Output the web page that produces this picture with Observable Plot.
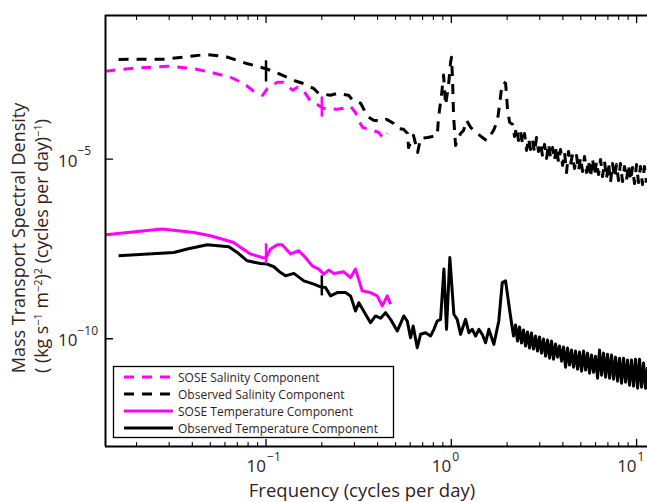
<!DOCTYPE html>
<html><head><meta charset="utf-8">
<script src="https://cdn.jsdelivr.net/npm/d3@7"></script>
<script src="https://cdn.jsdelivr.net/npm/@observablehq/plot@0.6"></script>
<style>
body{margin:0;background:#fff;}
#chart{position:relative;width:647px;height:502px;overflow:hidden;}
#chart svg{display:block;}
</style></head><body><div id="chart"></div>
<script>
// ---- data ----
const obsSalFreq = [0.0160,0.0287,0.0382,0.0471,0.0604,0.0775,0.100,0.1153,0.1442,0.1574,0.1804,0.192,0.2229,0.242,0.279,0.293,0.324,0.353,0.380,0.426,0.447,0.4875,0.513,0.552,0.581,0.5875,0.625,0.658,0.682,0.745,0.7925,0.840,0.853,0.885,0.908,0.931,0.966,0.991,1.002,1.016,1.028,1.054,1.122,1.164,1.208,1.271,1.334,1.403,1.473,1.549,1.607,1.690,1.775,1.820,1.866,1.914,1.963,1.986,2.009,2.063,
  2.140,2.194,2.249,2.305,2.363,2.423,2.484,2.546,2.610,2.676,2.743,2.812,2.884,2.956,3.031,3.107,3.185,3.266,3.348,3.432,3.519,3.606,3.697,3.790,3.886,3.984,4.083,4.187,4.292,4.400,4.511,4.624,4.741,4.860,4.982,5.108,5.236,5.368,5.503,5.641,5.783,5.929,6.078,6.231,6.388,6.548,6.713,6.882,7.055,7.232,7.414,7.601,7.791,7.988,8.188,8.395,8.606,8.823,9.045,9.273,9.506,9.745,9.991,10.24,10.50,10.76,11.03,11.31];
const obsSalPSD = [6.0e-3,6.1e-3,7.2e-3,8.2e-3,7.2e-3,4.7e-3,3.3e-3,2.5e-3,1.5e-3,1.3e-3,9.4e-4,6.8e-4,6.0e-4,6.8e-4,6.0e-4,4.4e-4,3.6e-4,1.56e-4,1.21e-4,1.13e-4,1.29e-4,9.9e-5,7.2e-5,6.8e-5,5.2e-5,2.1e-5,4.6e-5,1.54e-5,3.8e-5,4.0e-5,4.3e-5,4.6e-5,1.46e-4,6.0e-4,2.2e-3,3.2e-4,1.14e-3,5.0e-3,6.9e-3,1.58e-3,1.66e-4,2.42e-5,5.2e-5,6.3e-5,1.21e-4,7.7e-5,5.9e-5,4.9e-5,4.0e-5,3.3e-5,4.3e-5,6.3e-5,1.21e-4,3.2e-4,9.4e-4,1.39e-3,1.30e-3,6.0e-4,2.6e-4,1.06e-4,
  9.3e-5,4.3e-5,7.7e-5,3.3e-5,5.9e-5,2.7e-5,5.2e-5,1.75e-5,3.8e-5,1.87e-5,3.3e-5,1.54e-5,4.0e-5,1.64e-5,2.9e-5,1.19e-5,2.58e-5,1.05e-5,2.7e-5,1.11e-5,2.1e-5,9.2e-6,2.26e-5,8.1e-6,1.87e-5,6.7e-6,1.54e-5,4.25e-6,1.64e-5,7.1e-6,1.35e-5,5.5e-6,1.27e-5,4.83e-6,1.11e-5,4.53e-6,1.19e-5,4.25e-6,9.2e-6,3.08e-6,1.05e-5,3.51e-6,8.6e-6,3.74e-6,9.8e-6,3.29e-6,8.6e-6,2.89e-6,8.1e-6,2.23e-6,7.6e-6,3.08e-6,7.1e-6,2.54e-6,7.6e-6,2.38e-6,6.25e-6,2.71e-6,7.1e-6,2.54e-6,5.86e-6,2.1e-6,7.1e-6,2.23e-6,6.25e-6,1.96e-6,6.25e-6,2.23e-6];

const soseSalFreq = [0.0136,0.0193,0.0294,0.0392,0.0501,0.0643,0.0757,0.0857,0.0957,0.1019,0.1153,0.1242,0.139,0.1479,0.1633,0.1738,0.1873,0.2043,0.2422,0.262,0.2858,0.3041,0.3157,0.3319,0.3758,0.4046,0.4305,0.4529];
const soseSalPSD = [2.82e-3,3.41e-3,3.88e-3,3.41e-3,2.64e-3,1.91e-3,1.30e-3,7.8e-4,6.0e-4,9.4e-4,1.39e-3,1.39e-3,8.3e-4,1.01e-3,6.8e-4,4.1e-4,3.4e-4,2.6e-4,2.44e-4,2.6e-4,2.96e-4,2.0e-4,1.21e-4,7.7e-5,6.3e-5,5.6e-5,3.8e-5,5.2e-5];

const soseTempFreq = [0.0136,0.0275,0.0408,0.0501,0.067,0.0728,0.0825,0.0953,0.1,0.1057,0.1149,0.1223,0.1356,0.1503,0.1633,0.1775,0.1928,0.2051,0.2183,0.2323,0.263,0.2858,0.3041,0.3304,0.3664,0.398,0.424,0.451,0.470];
const soseTempPSD = [7.9e-8,1.14e-7,9.1e-8,7.4e-8,4.8e-8,3.5e-8,2.3e-8,1.83e-8,1.8e-8,3.14e-8,4.15e-8,4.15e-8,2.3e-8,2.82e-8,1.83e-8,1.07e-8,8.7e-9,6.3e-9,8.15e-9,6.6e-9,7.3e-9,5.06e-9,8.7e-9,2.15e-9,1.93e-9,1.56e-9,8.2e-10,1.56e-9,9.1e-10];

const obsTempFreq = [0.016,0.0318,0.0376,0.0482,0.063,0.0699,0.0792,0.0933,0.1015,0.1102,0.1198,0.1274,0.1413,0.16,0.1811,0.1968,0.2094,0.2229,0.2422,0.2685,0.2858,0.3041,0.3169,0.3443,0.3664,0.3899,0.415,0.4416,0.47,0.5107,0.5543,0.578,0.6026,0.6226,0.6548,0.6823,0.7261,0.7727,0.805,0.8395,0.875,0.912,0.9419,0.9817,1.032,1.076,1.122,1.194,1.244,1.297,1.352,1.408,1.469,1.531,1.594,1.696,1.804,1.883,1.963,2.043,
  2.113,2.167,2.222,2.277,2.334,2.393,2.453,2.515,2.578,2.643,2.709,2.777,2.847,2.919,2.993,3.069,3.146,3.225,3.307,3.390,3.474,3.562,3.651,3.743,3.837,3.934,4.033,4.135,4.239,4.345,4.455,4.567,4.682,4.800,4.920,5.045,5.172,5.301,5.435,5.572,5.713,5.856,6.004,6.155,6.310,6.469,6.632,6.799,6.970,7.146,7.326,7.510,7.700,7.893,8.092,8.295,8.504,8.718,8.933,9.158,9.389,9.625,9.867,10.12,10.37,10.63,10.90,11.17,11.45];
const obsTempPSD = [2.04e-8,2.53e-8,3.14e-8,4.15e-8,3.65e-8,2.53e-8,1.48e-8,1.24e-8,1.2e-8,1.01e-8,6.98e-9,5.65e-9,6.6e-9,4.09e-9,3.31e-9,2.78e-9,2.66e-9,1.56e-9,1.93e-9,1.93e-9,1.56e-9,5.94e-10,1.01e-9,4.81e-10,2.8e-10,4.31e-10,3.72e-10,5.33e-10,3.48e-10,1.64e-10,4.31e-10,3.12e-10,1.07e-10,2.26e-10,5.61e-11,1.33e-10,1.47e-10,1.19e-10,1.83e-10,3.12e-10,3.48e-10,8.7e-9,1.83e-10,1.83e-8,4.81e-10,3.48e-10,1.33e-10,3.48e-10,1.47e-10,1.83e-10,1.19e-10,1.83e-10,1.33e-10,7.74e-11,1.83e-10,6.98e-11,3.12e-10,3.67e-9,4.09e-9,9.1e-10,
  2.75e-10,1.19e-10,2.42e-10,8.6e-11,2.12e-10,7.6e-11,1.75e-10,6.3e-11,1.54e-10,5.5e-11,1.44e-10,5.15e-11,1.19e-10,4.53e-11,1.12e-10,3.98e-11,9.8e-11,3.28e-11,9.2e-11,2.88e-11,8.6e-11,2.7e-11,7.1e-11,3.08e-11,6.3e-11,2.38e-11,5.9e-11,1.62e-11,5.5e-11,1.85e-11,4.83e-11,1.62e-11,4.53e-11,1.42e-11,4.26e-11,1.25e-11,4.53e-11,1.34e-11,3.98e-11,1.10e-11,3.51e-11,1.17e-11,3.28e-11,7.98e-12,4.83e-11,9.7e-12,3.98e-11,8.5e-12,3.73e-11,7.98e-12,3.51e-11,7.5e-12,3.08e-11,6.58e-12,2.88e-11,5.79e-12,2.88e-11,6.18e-12,2.55e-11,5.09e-12,2.55e-11,4.78e-12,2.7e-11,4.19e-12,2.7e-11,4.48e-12,2.1e-11,4.19e-12,1.62e-11];

// confidence-interval bars
const ciFreq = [0.1, 0.2, 0.1, 0.2];
const ciLow  = [1.41e-3, 1.49e-4, 1.20e-8, 1.56e-9];
const ciHigh = [5.47e-3, 5.40e-4, 4.42e-8, 5.65e-9];
const ciSeries = ["Observed Salinity Component","SOSE Salinity Component","SOSE Temperature Component","Observed Temperature Component"];

// axes
const xDomain = [0.0136, 11.45];
const yDomain = [1e-13, 1e-1];
const xMajorTicks = [0.1, 1, 10];
const xTickExponents = ["\u22121", "0", "1"];
const xMinorTicks = [0.02,0.03,0.04,0.05,0.06,0.07,0.08,0.09,0.2,0.3,0.4,0.5,0.6,0.7,0.8,0.9,2,3,4,5,6,7,8,9];
const yMajorTicks = [1e-10, 1e-5];
const yTickExponents = ["\u221210", "\u22125"];

const legendLabels = ["SOSE Salinity Component","Observed Salinity Component","SOSE Temperature Component","Observed Temperature Component"];
const MAG = "#ff00ff";
const seriesStyle = {
  "SOSE Salinity Component": {stroke: MAG, dash: "10,8"},
  "Observed Salinity Component": {stroke: "#000", dash: "10,8"},
  "SOSE Temperature Component": {stroke: MAG, dash: null},
  "Observed Temperature Component": {stroke: "#000", dash: null}
};
const TXT = "#33221a";
const FONT = "'Open Sans', 'Noto Sans', sans-serif";

const toRows = (fs, ps) => fs.map((f, i) => ({f, p: ps[i]}));
const obsSal = toRows(obsSalFreq, obsSalPSD);
const soseSal = toRows(soseSalFreq, soseSalPSD);
const soseTemp = toRows(soseTempFreq, soseTempPSD);
const obsTemp = toRows(obsTempFreq, obsTempPSD);
const ci = ciFreq.map((f, i) => ({f, lo: ciLow[i], hi: ciHigh[i], s: ciSeries[i]}));

const tickShape = {draw(ctx, l) { ctx.moveTo(0, 0); ctx.lineTo(0, -l); }};
const lineOpts = (name) => ({x: "f", y: "p", stroke: seriesStyle[name].stroke, strokeWidth: 3,
  strokeDasharray: seriesStyle[name].dash, strokeLinecap: "butt", strokeLinejoin: "round", clip: true});

const chart = Plot.plot({
  width: 647, height: 502,
  marginLeft: 105, marginRight: 0, marginTop: 15, marginBottom: 56,
  x: {type: "log", domain: xDomain, axis: null},
  y: {type: "log", domain: yDomain, axis: null},
  style: {fontFamily: FONT, color: TXT, background: "#fff", overflow: "hidden"},
  marks: [
    Plot.line(soseSal, lineOpts("SOSE Salinity Component")),
    Plot.line(obsSal, lineOpts("Observed Salinity Component")),
    Plot.line(soseTemp, lineOpts("SOSE Temperature Component")),
    Plot.line(obsTemp, lineOpts("Observed Temperature Component")),
    Plot.ruleX(ci, {x: "f", y1: "lo", y2: "hi", stroke: d => seriesStyle[d.s].stroke, strokeWidth: 2.5}),
    // frame (left, top, bottom)
    Plot.ruleX([xDomain[0]], {stroke: "#000", strokeWidth: 2}),
    Plot.ruleY(yDomain, {stroke: "#000", strokeWidth: 2}),
    // inward ticks
    Plot.vector(xMajorTicks, {x: d => d, frameAnchor: "bottom", length: 7, rotate: 0, anchor: "start", shape: tickShape, stroke: "#000", strokeWidth: 1.3}),
    Plot.vector(xMajorTicks, {x: d => d, frameAnchor: "top", length: 7, rotate: 180, anchor: "start", shape: tickShape, stroke: "#000", strokeWidth: 1.3}),
    Plot.vector(xMinorTicks, {x: d => d, frameAnchor: "bottom", length: 4, rotate: 0, anchor: "start", shape: tickShape, stroke: "#000", strokeWidth: 1.1}),
    Plot.vector(xMinorTicks, {x: d => d, frameAnchor: "top", length: 4, rotate: 180, anchor: "start", shape: tickShape, stroke: "#000", strokeWidth: 1.1}),
    Plot.vector(yMajorTicks, {y: d => d, frameAnchor: "left", length: 7, rotate: 90, anchor: "start", shape: tickShape, stroke: "#000", strokeWidth: 1.3}),
    // tick labels
    Plot.text(xMajorTicks, {x: d => d, frameAnchor: "bottom", text: () => "10", textAnchor: "end", dy: 25, fontSize: 17, fill: TXT}),
    Plot.text(xMajorTicks, {x: d => d, frameAnchor: "bottom", text: (d, i) => xTickExponents[i], textAnchor: "start", dx: 1, dy: 14, fontSize: 12, fill: TXT}),
    Plot.text(yMajorTicks, {y: d => d, frameAnchor: "left", text: () => "10", textAnchor: "end", dx: -28, dy: 2, fontSize: 17, fill: TXT}),
    Plot.text(yMajorTicks, {y: d => d, frameAnchor: "left", text: (d, i) => yTickExponents[i], textAnchor: "start", dx: -28, dy: -8, fontSize: 12, fill: TXT})
  ]
});

const svg = d3.select(chart);
// x label
svg.append("text").attr("x", 362).attr("y", 497).attr("text-anchor", "middle")
  .attr("font-size", 18.5).attr("fill", TXT).text("Frequency (cycles per day)");
// y label line 1
svg.append("text").attr("transform", "translate(25,238) rotate(-90)").attr("text-anchor", "middle")
  .attr("font-size", 18).attr("fill", TXT).text("Mass Transport Spectral Density");
// y label line 2 with superscripts
const yl2 = svg.append("text").attr("transform", "translate(48,246) rotate(-90)").attr("text-anchor", "middle")
  .attr("font-size", 17.8).attr("fill", TXT);
const parts = [["( (kg s", 0], ["\u22121", 1], [" m", 0], ["\u22122", 1], [")", 0], ["2", 1], [" (cycles per day)", 0], ["\u22121", 1], [")", 0]];
let shifted = 0;
for (const [t, sup] of parts) {
  const ts = yl2.append("tspan").text(t);
  if (sup && !shifted) { ts.attr("dy", -6).attr("font-size", 11); shifted = 1; }
  else if (sup) { ts.attr("font-size", 11); }
  else if (shifted) { ts.attr("dy", 6); shifted = 0; }
}
// legend
const lg = svg.append("g");
lg.append("rect").attr("x", 113.5).attr("y", 366.5).attr("width", 280).attr("height", 71)
  .attr("fill", "#fff").attr("stroke", "#000").attr("stroke-width", 1.3);
legendLabels.forEach((name, i) => {
  const yy = 377 + i * 17;
  lg.append("line").attr("x1", 124).attr("x2", 173).attr("y1", yy).attr("y2", yy)
    .attr("stroke", seriesStyle[name].stroke).attr("stroke-width", 3)
    .attr("stroke-dasharray", seriesStyle[name].dash);
  lg.append("text").attr("x", 178).attr("y", yy + 4.5).attr("text-anchor", "start")
    .attr("font-size", 12).attr("fill", TXT).text(name);
});

document.getElementById("chart").appendChild(chart);
</script>
</body></html>
